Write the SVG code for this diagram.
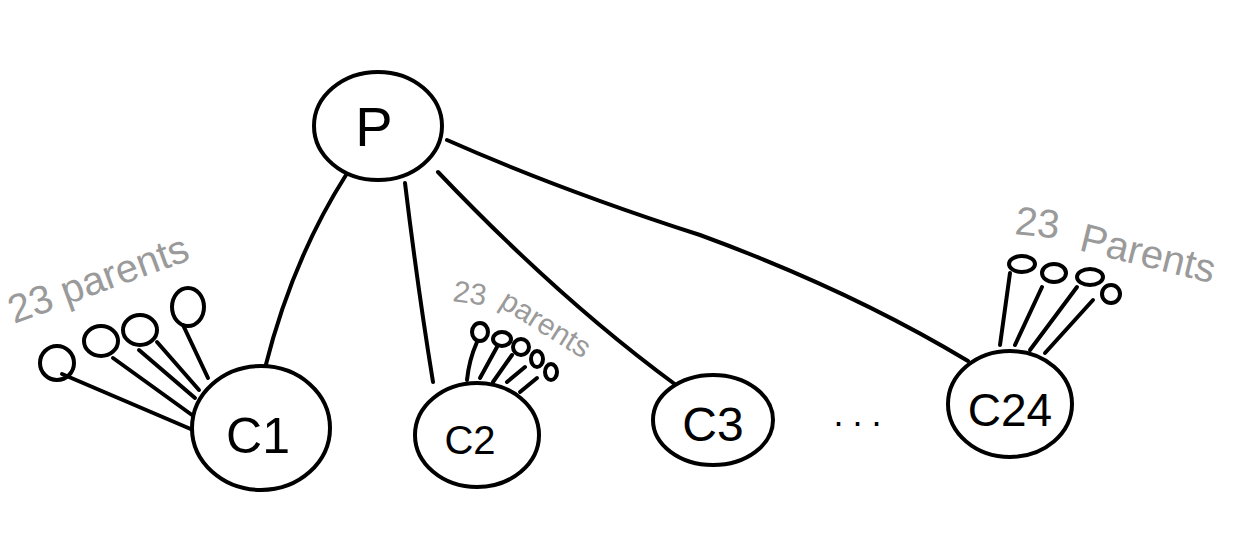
<svg xmlns="http://www.w3.org/2000/svg" width="1257" height="546" viewBox="0 0 1257 546">
  <style>
    .ink { fill: none; stroke: #000; stroke-width: 4; stroke-linecap: round; stroke-linejoin: round; }
    .node { fill: #fff; stroke: #000; stroke-width: 4; }
    .lbl { font-family: "Liberation Sans", "DejaVu Sans", sans-serif; fill: #000; text-anchor: middle; }
    .note { font-family: "Liberation Sans", "DejaVu Sans", sans-serif; fill: #9a9a9a; }
  </style>
  <rect width="1257" height="546" fill="#fff"/>

  <!-- connectors from P to the children -->
  <g id="connectors">
    <path class="ink" d="M346,175 Q292,260 265,368"/>
    <path class="ink" d="M405,183 Q418,290 433,382"/>
    <path class="ink" d="M438,172 Q560,300 676,385"/>
    <path class="ink" d="M447,140 Q560,190 700,235 Q850,290 968,361"/>
  </g>

  <!-- parent fan of C1 -->
  <g id="c1-parents">
    <text class="note" font-size="40" transform="translate(14,324) rotate(-20)">23  parents</text>
    <circle class="ink" cx="57" cy="363" r="17"/>
    <ellipse class="ink" cx="101" cy="341" rx="17" ry="15"/>
    <ellipse class="ink" cx="140" cy="330" rx="17" ry="15"/>
    <ellipse class="ink" cx="188" cy="307" rx="16" ry="19"/>
    <path class="ink" d="M62,374 L193,430"/>
    <path class="ink" d="M113,358 L192,415"/>
    <path class="ink" d="M139,350 L195,398"/>
    <path class="ink" d="M157,342 L199,390"/>
    <path class="ink" d="M183,325 L208,378"/>
  </g>

  <!-- parent fan of C2 -->
  <g id="c2-parents">
    <text class="note" font-size="30" transform="translate(452,301) rotate(8)">23</text>
    <text class="note" font-size="30" transform="translate(498,306) rotate(32)">parents</text>
    <ellipse class="ink" cx="480" cy="332" rx="8" ry="9"/>
    <ellipse class="ink" cx="502" cy="339" rx="9" ry="7"/>
    <ellipse class="ink" cx="521" cy="347" rx="8" ry="8"/>
    <ellipse class="ink" cx="537" cy="359" rx="6" ry="8"/>
    <ellipse class="ink" cx="551" cy="372" rx="6" ry="8"/>
    <path class="ink" d="M477,342 Q469,360 467,380"/>
    <path class="ink" d="M497,347 L480,378"/>
    <path class="ink" d="M512,355 L493,382"/>
    <path class="ink" d="M525,367 L507,382"/>
    <path class="ink" d="M537,378 L520,392"/>
  </g>

  <!-- parent fan of C24 -->
  <g id="c24-parents">
    <text class="note" font-size="40" transform="translate(1014,234) rotate(6)">23</text>
    <text class="note" font-size="40" transform="translate(1078,250) rotate(14)">Parents</text>
    <ellipse class="ink" cx="1022" cy="264" rx="13" ry="8"/>
    <ellipse class="ink" cx="1054" cy="273" rx="12" ry="9"/>
    <ellipse class="ink" cx="1090" cy="277" rx="13" ry="8"/>
    <circle class="ink" cx="1111" cy="294" r="9"/>
    <path class="ink" d="M1010,273 L1000,345"/>
    <path class="ink" d="M1042,287 L1015,345"/>
    <path class="ink" d="M1077,287 L1030,350"/>
    <path class="ink" d="M1093,300 L1045,353"/>
  </g>

  <g id="node-p">
    <ellipse class="node" cx="378" cy="126" rx="64" ry="54"/>
    <text class="lbl" x="374" y="146" font-size="56">P</text>
  </g>
  <g id="node-c1">
    <ellipse class="node" cx="261" cy="428" rx="69" ry="62"/>
    <text class="lbl" x="258" y="453" font-size="50">C1</text>
  </g>
  <g id="node-c2">
    <ellipse class="node" cx="477" cy="435" rx="62" ry="52"/>
    <text class="lbl" x="470" y="454" font-size="40">C2</text>
  </g>
  <g id="node-c3">
    <ellipse class="node" cx="713" cy="420" rx="60" ry="45"/>
    <text class="lbl" x="713" y="441" font-size="48">C3</text>
  </g>
  <g id="node-c24">
    <ellipse class="node" cx="1010" cy="404" rx="62" ry="53"/>
    <text class="lbl" x="1010" y="426" font-size="46">C24</text>
  </g>
  <g id="ellipsis">
    <text class="lbl" x="862" y="426" font-size="36" letter-spacing="9">...</text>
  </g>
</svg>
